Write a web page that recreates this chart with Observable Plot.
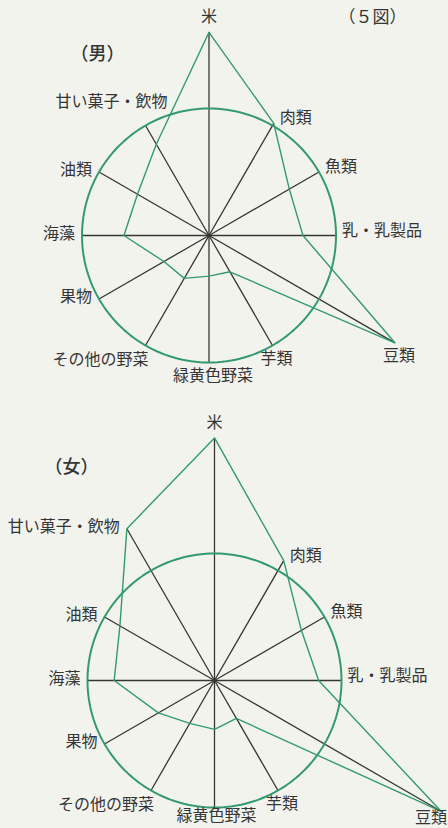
<!DOCTYPE html>
<html><head><meta charset="utf-8">
<script src="https://cdn.jsdelivr.net/npm/d3@7"></script>
<script src="https://cdn.jsdelivr.net/npm/@observablehq/plot@0.6"></script>
<style>
html,body{margin:0;padding:0;background:#f3f3ee;}
#wrap{width:448px;height:828px;overflow:hidden;position:relative;background:#f3f3ee;}
#wrap svg{display:block;}
</style></head><body><div id="wrap"></div>
<script>
// Categories clockwise from the top (ratio to the reference circle = 1)
const categories = ["米","肉類","魚類","乳・乳製品","豆類","芋類","緑黄色野菜","その他の野菜","果物","海藻","油類","甘い菓子・飲物"];
const maleValues   = [1.60, 1.02, 0.73, 0.74, 1.69, 0.33, 0.32, 0.39, 0.41, 0.67, 0.65, 0.83];
const femaleValues = [1.91, 1.09, 0.79, 0.82, 2.06, 0.345, 0.385, 0.39, 0.51, 0.79, 0.86, 1.38];
const panelTitles = ["（男）", "（女）"];
const figureLabel = "（５図）";

const GREEN = "#339a6c", INK = "#353535";
const FONT = '"Noto Sans CJK JP", "Noto Sans", sans-serif';
const W = 448, R = 127;

// label placement rules (layout only)
const offsets = {
  top: [0, -15, "middle"], right: [6, -5, "start"], below: [4, 13, "middle"],
  belowTight: [2, 8, "middle"], belowEnd: [6, 7, "end"],
  belowLeft: [3, 14, "end"], left: [-7, -2, "end"], aboveLeft: [-34, -24, "middle"]
};
const placeMale   = ["top","right","right","right","below","below","below","belowLeft","left","left","left","aboveLeft"];
const placeFemale = ["top","right","right","right","belowEnd","below","belowTight","belowLeft","left","left","left","left"];

function radar(values, H, cx, cy, place, title, titlePos, extra) {
  const n = categories.length;
  const rows = categories.map((c, i) => {
    const a = 2 * Math.PI * i / n;
    const v = values[i];
    const e = Math.max(1, v);
    const [dx, dy, anchor] = offsets[place[i]];
    return {
      c, v, anchor,
      x: v * Math.sin(a), y: v * Math.cos(a),
      ex: e * Math.sin(a), ey: e * Math.cos(a),
      lx: e * Math.sin(a) + dx / R, ly: e * Math.cos(a) - dy / R
    };
  });
  const ring = d3.range(0, 360, 2).map(deg => ({x: Math.sin(deg * Math.PI / 180), y: Math.cos(deg * Math.PI / 180)}));
  const labelMark = anchor => Plot.text(rows, {
    filter: d => d.anchor === anchor, x: "lx", y: "ly", text: "c",
    textAnchor: anchor, lineAnchor: "middle", fill: INK, fontSize: 16
  });
  const marks = [
    Plot.link(rows, {x1: () => 0, y1: () => 0, x2: "ex", y2: "ey", stroke: INK, strokeWidth: 1.3}),
    Plot.line(ring, {x: "x", y: "y", curve: "linear-closed", stroke: GREEN, strokeWidth: 2}),
    Plot.line(rows, {x: "x", y: "y", curve: "linear-closed", stroke: GREEN, strokeWidth: 1.4}),
    labelMark("start"), labelMark("middle"), labelMark("end"),
    Plot.text([title], {frameAnchor: "top-left", dx: titlePos[0], dy: titlePos[1], text: d => d,
      textAnchor: "middle", lineAnchor: "middle", fontSize: 18, fontWeight: 500, fill: INK})
  ];
  if (extra) marks.push(extra);
  return Plot.plot({
    width: W, height: H, margin: 0,
    x: {domain: [-cx / R, (W - cx) / R], axis: null},
    y: {domain: [-(H - cy) / R, cy / R], axis: null},
    style: {background: "transparent", fontFamily: FONT},
    marks
  });
}

const figMark = Plot.text([figureLabel], {frameAnchor: "top-left", dx: 372, dy: 17, text: d => d,
  textAnchor: "middle", lineAnchor: "middle", fontSize: 17, fill: INK});

const wrap = document.getElementById("wrap");
wrap.append(radar(maleValues, 408, 208.5, 235, placeMale, panelTitles[0], [97, 54], figMark));
wrap.append(radar(femaleValues, 420, 214, 272, placeFemale, panelTitles[1], [71, 59]));
</script></body></html>
